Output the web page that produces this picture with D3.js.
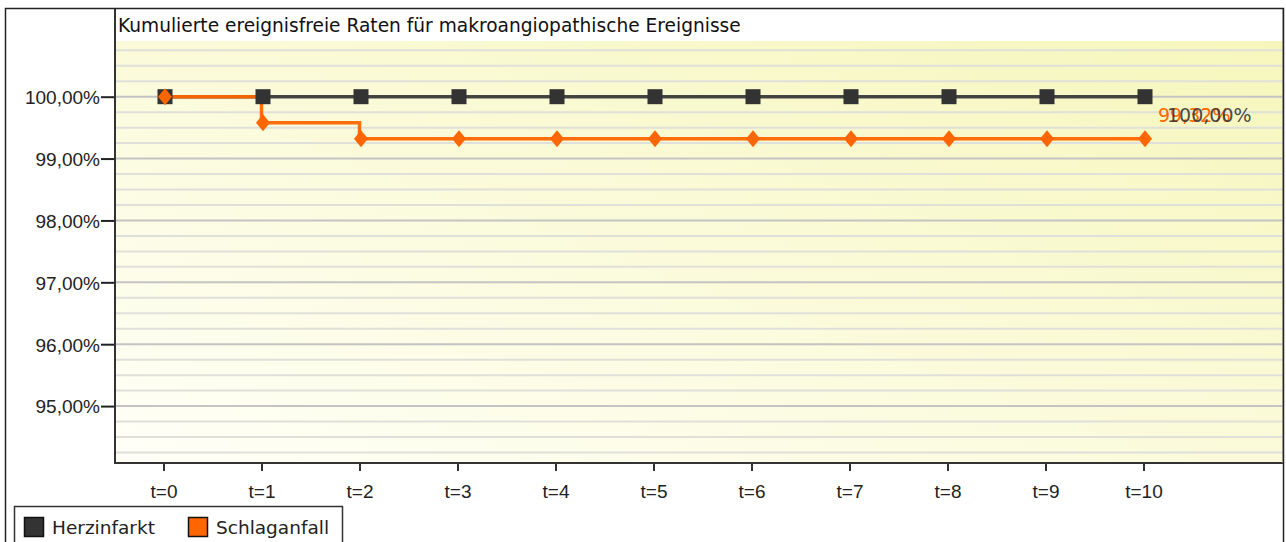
<!DOCTYPE html>
<html><head><meta charset="utf-8">
<script src="https://cdn.jsdelivr.net/npm/d3@7"></script>
<style>body{margin:0;background:#fff;} svg{display:block;font-family:"DejaVu Sans",sans-serif;}</style>
</head><body>
<svg id="c" width="1286" height="542"></svg>
<script>
const title = "Kumulierte ereignisfreie Raten für makroangiopathische Ereignisse";
const categories = ["t=0","t=1","t=2","t=3","t=4","t=5","t=6","t=7","t=8","t=9","t=10"];
const seriesNames = ["Herzinfarkt","Schlaganfall"];
const herzinfarkt = [100,100,100,100,100,100,100,100,100,100,100];
const schlaganfall = [100,99.58,99.32,99.32,99.32,99.32,99.32,99.32,99.32,99.32,99.32];
const yTicks = [95,96,97,98,99,100];
const colors = ["#333333","#ff6600"];

const svg = d3.select("#c");
const L=115, R=1283, T=41, B=463;
const x = d3.scalePoint().domain(categories).range([163.5,1143.5]);
const y = d3.scaleLinear().domain([94.08,100.9]).range([B,T]);
const fmt = v => d3.format(".2f")(v).replace(".", ",") + "%";

// gradient
const defs = svg.append("defs");
const g = defs.append("linearGradient").attr("id","bg").attr("x1","0%").attr("y1","100%").attr("x2","100%").attr("y2","0%");
g.append("stop").attr("offset","0%").attr("stop-color","#fffff8");
g.append("stop").attr("offset","100%").attr("stop-color","#f6f6bc");

svg.append("rect").attr("x",L).attr("y",T).attr("width",R-L).attr("height",B-T).attr("fill","url(#bg)");

// gridlines
const grid = d3.range(94.25, 100.8, 0.25);
svg.append("g").selectAll("line").data(grid).join("line")
  .attr("x1",L+1).attr("x2",R).attr("y1",d=>y(d)).attr("y2",d=>y(d))
  .attr("stroke",d=>Math.abs(d-Math.round(d))<1e-6?"#c4c4c4":"#e0e0da").attr("stroke-width",2);

// title
svg.append("text").attr("x",118).attr("y",32).attr("font-size",18.6).attr("fill","#111").text(title);

// y axis
const ya = d3.axisLeft(y).tickValues(yTicks).tickSize(14).tickFormat(fmt);
const yg = svg.append("g").attr("transform",`translate(${L},0)`).call(ya);
yg.select(".domain").remove();
yg.selectAll(".tick line").attr("stroke","#222").attr("stroke-width",2);
yg.selectAll(".tick text").attr("font-size",19).attr("fill","#222").attr("x",-15).attr("dy","0.36em").style("font-family","inherit");
svg.append("line").attr("x1",L).attr("x2",L).attr("y1",8).attr("y2",B+1).attr("stroke","#333").attr("stroke-width",2);

// x axis
const xa = d3.axisBottom(x).tickSize(8).tickSizeOuter(0);
const xg = svg.append("g").attr("transform",`translate(0,${B})`).call(xa);
xg.select(".domain").remove();
xg.selectAll(".tick line").attr("stroke","#333").attr("stroke-width",2);
xg.selectAll(".tick text").attr("font-size",19).attr("fill","#222").attr("y",22).attr("dy","0.71em").style("font-family","inherit");
svg.append("line").attr("x1",L-1).attr("x2",R).attr("y1",B).attr("y2",B).attr("stroke","#333").attr("stroke-width",2);
svg.append("line").attr("x1",R).attr("x2",R).attr("y1",8).attr("y2",B).attr("stroke","#aaa").attr("stroke-width",1.5);

// outer border
svg.append("rect").attr("x",5.5).attr("y",8.5).attr("width",R-5).attr("height",560).attr("fill","none").attr("stroke","#222").attr("stroke-width",1.5);

// series
const data = [herzinfarkt, schlaganfall];
const lineStep = d3.line().x((d,i)=>x(categories[i])).y(d=>y(d)).curve(d3.curveStepAfter);
data.forEach((vals,si)=>{
  svg.append("path").attr("d",lineStep(vals)).attr("fill","none").attr("stroke",colors[si])
     .attr("stroke-width",3.5).attr("stroke-opacity",si===0?0.9:0.95);
});
// markers
svg.append("g").selectAll("rect").data(herzinfarkt).join("rect")
  .attr("x",(d,i)=>x(categories[i])-7.5+1.5).attr("y",d=>y(d)-7.5).attr("width",15).attr("height",15).attr("fill",colors[0]);
const diamond = "M0,-8.5L7,0L0,8.5L-7,0Z";
svg.append("g").selectAll("path").data(schlaganfall).join("path")
  .attr("transform",(d,i)=>`translate(${x(categories[i])+1.5},${y(d)})`).attr("d",diamond).attr("fill",colors[1]);

// end labels
svg.append("text").attr("x",1158).attr("y",122).attr("font-size",19).attr("fill",colors[1]).text(fmt(schlaganfall[10]));
svg.append("text").attr("x",1167).attr("y",122).attr("font-size",19).attr("fill","#333").attr("fill-opacity",0.9).text(fmt(herzinfarkt[10]));

// legend
const lg = svg.append("g");
lg.append("rect").attr("x",14.5).attr("y",506.5).attr("width",328).attr("height",60).attr("fill","#fff").attr("stroke","#333").attr("stroke-width",1.5);
const lx = [24,188];
seriesNames.forEach((n,i)=>{
  lg.append("rect").attr("x",lx[i]+0.5).attr("y",517.5).attr("width",19).attr("height",19).attr("fill",colors[i]).attr("stroke","#111").attr("stroke-width",1.5);
  lg.append("text").attr("x",lx[i]+28).attr("y",534).attr("font-size",18.5).attr("fill","#222").text(n);
});
</script>
</body></html>
